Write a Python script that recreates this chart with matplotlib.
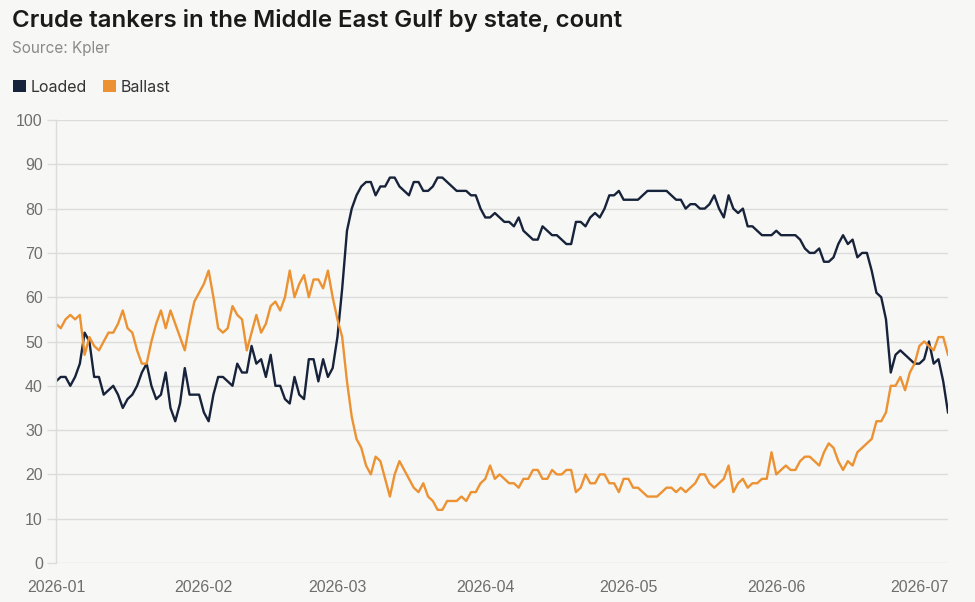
import matplotlib.pyplot as plt
import matplotlib.dates as mdates
from matplotlib.patches import Patch
import pandas as pd

# daily counts, 2026-01-01 .. 2026-07-07
start_date = "2026-01-01"

loaded = [
    41, 42, 42, 40, 42, 45, 52, 50, 42, 42,
    38, 39, 40, 38, 35, 37, 38, 40, 43, 45,
    40, 37, 38, 43, 35, 32, 36, 44, 38, 38,
    38, 34, 32, 38, 42, 42, 41, 40, 45, 43,
    43, 49, 45, 46, 42, 47, 40, 40, 37, 36,
    42, 38, 37, 46, 46, 41, 46, 42, 44, 51,
    62, 75, 80, 83, 85, 86, 86, 83, 85, 85,
    87, 87, 85, 84, 83, 86, 86, 84, 84, 85,
    87, 87, 86, 85, 84, 84, 84, 83, 83, 80,
    78, 78, 79, 78, 77, 77, 76, 78, 75, 74,
    73, 73, 76, 75, 74, 74, 73, 72, 72, 77,
    77, 76, 78, 79, 78, 80, 83, 83, 84, 82,
    82, 82, 82, 83, 84, 84, 84, 84, 84, 83,
    82, 82, 80, 81, 81, 80, 80, 81, 83, 80,
    78, 83, 80, 79, 80, 76, 76, 75, 74, 74,
    74, 75, 74, 74, 74, 74, 73, 71, 70, 70,
    71, 68, 68, 69, 72, 74, 72, 73, 69, 70,
    70, 66, 61, 60, 55, 43, 47, 48, 47, 46,
    45, 45, 46, 50, 45, 46, 41, 34,
]

ballast = [
    54, 53, 55, 56, 55, 56, 47, 51, 49, 48,
    50, 52, 52, 54, 57, 53, 52, 48, 45, 45,
    50, 54, 57, 53, 57, 54, 51, 48, 54, 59,
    61, 63, 66, 60, 53, 52, 53, 58, 56, 55,
    48, 52, 56, 52, 54, 58, 59, 57, 60, 66,
    60, 63, 65, 60, 64, 64, 62, 66, 60, 55,
    51, 41, 33, 28, 26, 22, 20, 24, 23, 19,
    15, 20, 23, 21, 19, 17, 16, 18, 15, 14,
    12, 12, 14, 14, 14, 15, 14, 16, 16, 18,
    19, 22, 19, 20, 19, 18, 18, 17, 19, 19,
    21, 21, 19, 19, 21, 20, 20, 21, 21, 16,
    17, 20, 18, 18, 20, 20, 18, 18, 16, 19,
    19, 17, 17, 16, 15, 15, 15, 16, 17, 17,
    16, 17, 16, 17, 18, 20, 20, 18, 17, 18,
    19, 22, 16, 18, 19, 17, 18, 18, 19, 19,
    25, 20, 21, 22, 21, 21, 23, 24, 24, 23,
    22, 25, 27, 26, 23, 21, 23, 22, 25, 26,
    27, 28, 32, 32, 34, 40, 40, 42, 39, 43,
    45, 49, 50, 49, 48, 51, 51, 47,
]

dates = pd.date_range(start_date, periods=len(loaded), freq="D")

bg = "#f7f7f5"
c_loaded = "#17233a"
c_ballast = "#ec9232"
grid_c = "#dcdcdc"
txt_grey = "#6e6e6e"

fig = plt.figure(figsize=(9.75, 6.02), dpi=100, facecolor=bg)
ax = fig.add_axes([56 / 975, 1 - 563 / 602, (948 - 56) / 975, (563 - 120) / 602])
ax.set_facecolor(bg)

ax.plot(dates, loaded, color=c_loaded, lw=1.7, solid_joinstyle="round")
ax.plot(dates, ballast, color=c_ballast, lw=1.7, solid_joinstyle="round")

ax.set_ylim(0, 100)
ax.set_yticks(range(0, 101, 10))
ax.set_xlim(dates[0], dates[-1])
ax.xaxis.set_major_locator(mdates.MonthLocator())
ax.xaxis.set_major_formatter(mdates.DateFormatter("%Y-%m"))

tick_font = ["Liberation Sans Narrow", "Liberation Sans", "DejaVu Sans"]
for lab in ax.get_xticklabels() + ax.get_yticklabels():
    lab.set_family(tick_font)
    lab.set_color(txt_grey)
    lab.set_fontsize(11.5)

ax.tick_params(axis="x", length=0, pad=12)
ax.tick_params(axis="y", length=6.5, color=grid_c, width=1, pad=3)
ax.grid(axis="y", color=grid_c, lw=1)
ax.set_axisbelow(True)
for s in ["top", "right", "bottom"]:
    ax.spines[s].set_visible(False)
ax.spines["left"].set_color(grid_c)
ax.spines["left"].set_linewidth(1)

fig.text(12 / 975, 1 - 21 / 602, "Crude tankers in the Middle East Gulf by state, count",
         fontsize=17.3, fontweight="semibold", family=["Inter", "DejaVu Sans"],
         color="#1a1a1a", va="center")
fig.text(12 / 975, 1 - 48 / 602, "Source: Kpler", fontsize=11,
         family=["Inter", "DejaVu Sans"], color="#8a8a8a", va="center")

handles = [Patch(facecolor=c_loaded, edgecolor="none"),
           Patch(facecolor=c_ballast, edgecolor="none")]
fig.legend(handles, ["Loaded", "Ballast"], loc="center left",
           bbox_to_anchor=(0 / 975, 1 - 87 / 602), ncol=2, frameon=False,
           handlelength=0.8, handleheight=0.8, handletextpad=0.3,
           columnspacing=1.05, borderpad=0.3,
           prop={"family": ["Inter", "DejaVu Sans"], "size": 11.5},
           labelcolor="#333333")

fig.savefig("out.png", dpi=100, facecolor=bg)
